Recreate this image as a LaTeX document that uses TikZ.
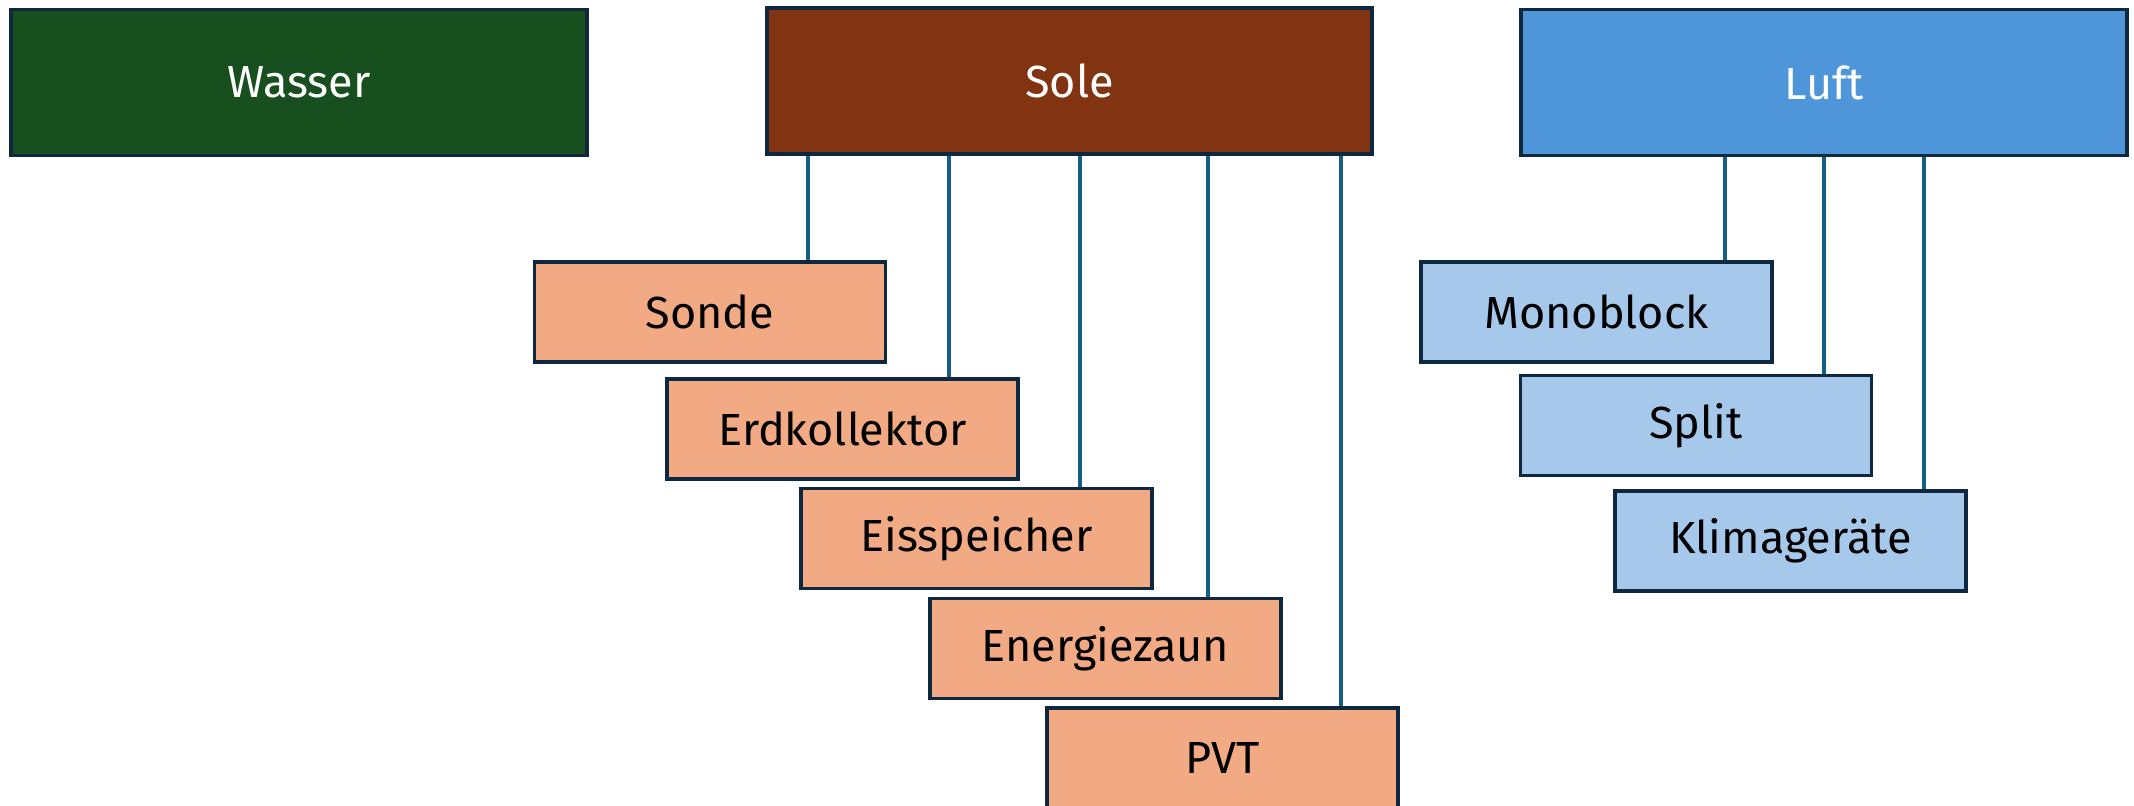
\documentclass[tikz,border=0pt]{standalone}
\usepackage{fontspec}
\setmainfont{Fira Sans}
\usepackage{xcolor}
\usetikzlibrary{calc,positioning}
\definecolor{lineNavy}{RGB}{14,40,64}
\definecolor{linkTeal}{RGB}{21,96,130}
\definecolor{waterGreen}{RGB}{23,80,30}
\definecolor{brineBrown}{RGB}{130,52,18}
\definecolor{airBlue}{RGB}{79,149,217}
\definecolor{softOrange}{RGB}{241,170,132}
\definecolor{softBlue}{RGB}{166,201,235}

\tikzset{
  mainbox/.style={draw=lineNavy,line width=1.1pt,minimum height=1.46cm,inner sep=0pt,text=white,font=\fontsize{12.8}{15}\selectfont},
  subbox/.style={draw=lineNavy,line width=1.1pt,minimum width=3.51cm,minimum height=1.0cm,inner sep=0pt,text=black,font=\fontsize{12.8}{15}\selectfont},
  link/.style={draw=linkTeal,line width=1.2pt}
}

\begin{document}
\begin{tikzpicture}
\useasboundingbox (0,0) rectangle (21.34,-8.06);
% Hauptgruppen
\node[mainbox,fill=waterGreen,minimum width=5.76cm] (wasser) at (2.99,-0.825) {Wasser};
\node[mainbox,fill=brineBrown,minimum width=6.05cm] (sole) at (10.695,-0.81) {Sole};
\node[mainbox,fill=airBlue,minimum width=6.06cm] (luft) at (18.24,-0.825) {Luft};
% Sole
\node[subbox,fill=softOrange] (sonde) at (7.10,-3.12) {Sonde};
\node[subbox,fill=softOrange] (erdkollektor) at (8.425,-4.29) {Erdkollektor};
\node[subbox,fill=softOrange] (eisspeicher) at (9.765,-5.385) {Eisspeicher};
\node[subbox,fill=softOrange] (energiezaun) at (11.055,-6.485) {Energiezaun};
\node[subbox,fill=softOrange] (pvt) at (12.225,-7.58) {PVT};
% Luft
\node[subbox,fill=softBlue] (monoblock) at (15.965,-3.12) {Monoblock};
\node[subbox,fill=softBlue] (split) at (16.96,-4.255) {Split};
\node[subbox,fill=softBlue] (klima) at (17.905,-5.41) {Klimageräte};
% Verbindungen
\foreach \child/\dx in {sonde/0.98,erdkollektor/1.065,eisspeicher/1.035,energiezaun/1.025,pvt/1.185}{
  \path ([xshift=\dx cm]\child.north) coordinate (top);
  \draw[link] (top) -- (top |- sole.south);
}
\foreach \child/\dx in {monoblock/1.285,split/1.28,klima/1.335}{
  \path ([xshift=\dx cm]\child.north) coordinate (top);
  \draw[link] (top) -- (top |- luft.south);
}
\end{tikzpicture}
\end{document}
